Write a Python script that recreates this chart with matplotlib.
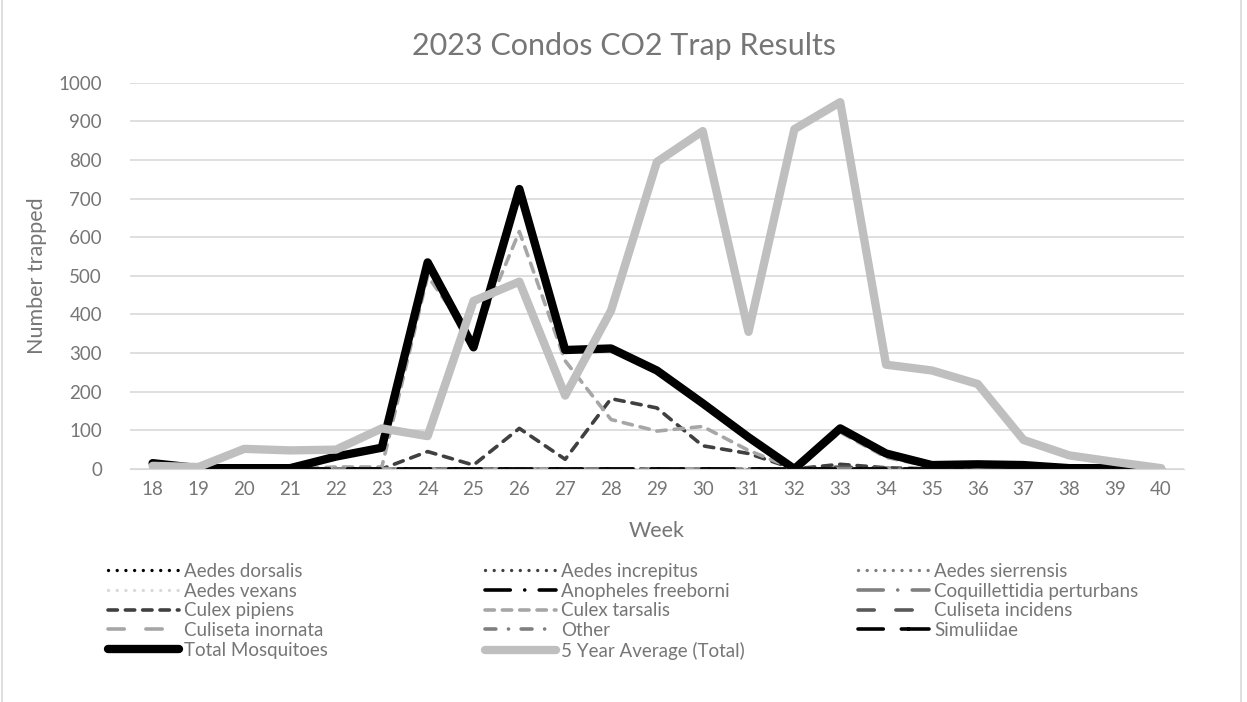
import matplotlib.pyplot as plt
from matplotlib.patches import Rectangle

# weeks and series
weeks = list(range(18, 41))

aedes_dorsalis = [0] * 23
aedes_increpitus = [0] * 23
aedes_sierrensis = [0] * 23
aedes_vexans = [0] * 23
anopheles_freeborni = [0] * 23
coquillettidia = [0] * 23
culex_pipiens = [0, 0, 0, 0, 0, 0, 45, 10, 105, 25, 182, 158, 60, 40, 0, 12, 3, 0, 0, 0, 0, 0, 0]
culex_tarsalis = [0, 0, 0, 0, 5, 5, 500, 330, 615, 280, 128, 98, 110, 48, 0, 95, 30, 5, 3, 2, 0, 0, 0]
culiseta_incidens = [0, 0, 0, 0, 0, 0, 0, 0, 0, 0, 0, 0, 0, 0, 0, 5, 2, 0, 0, 0, 0, 0, 0]
culiseta_inornata = [0] * 23
other = [0] * 23
simuliidae = [12, 0, 0, 0, 0, 0, 0, 0, 0, 0, 0, 0, 0, 0, 0, 0, 0, 0, 8, 8, 2, 2, 0]
total = [15, 2, 2, 2, 32, 55, 535, 315, 725, 308, 312, 255, 170, 82, 0, 105, 40, 10, 12, 10, 2, 2, 0]
avg5 = [8, 5, 52, 48, 50, 105, 85, 435, 485, 190, 410, 795, 875, 355, 880, 950, 270, 255, 220, 75, 35, 18, 2]

names = ['Aedes dorsalis', 'Aedes increpitus', 'Aedes sierrensis', 'Aedes vexans',
         'Anopheles freeborni', 'Coquillettidia perturbans', 'Culex pipiens',
         'Culex tarsalis', 'Culiseta incidens', 'Culiseta inornata', 'Other',
         'Simuliidae', 'Total Mosquitoes', '5 Year Average (Total)']
series = [aedes_dorsalis, aedes_increpitus, aedes_sierrensis, aedes_vexans,
          anopheles_freeborni, coquillettidia, culex_pipiens, culex_tarsalis,
          culiseta_incidens, culiseta_inornata, other, simuliidae, total, avg5]

dot = (0, (0.01, 2.6))
dash = (0, (2.6, 2.2))
longdash = (0, (4.5, 6))
longdashdot = (0, (7, 4, 0.01, 4))
styles = [
    ('#000000', dot, 2.4),
    ('#404040', dot, 2.4),
    ('#7f7f7f', dot, 2.4),
    ('#d9d9d9', dot, 2.4),
    ('#000000', longdashdot, 2.6),
    ('#7f7f7f', longdashdot, 2.6),
    ('#404040', dash, 2.6),
    ('#a6a6a6', dash, 2.6),
    ('#595959', longdash, 2.6),
    ('#a6a6a6', longdash, 2.6),
    ('#7f7f7f', (0, (3, 3.5, 0.01, 3.5)), 2.6),
    ('#000000', (0, (7, 5, 2, 0.01)), 2.6),
    ('#000000', '-', 6),
    ('#bfbfbf', '-', 6),
]

plt.rcParams['font.family'] = ['Lato', 'DejaVu Sans']
txt = '#767676'

fig = plt.figure(figsize=(12.47, 7.02), dpi=100)
ax = fig.add_axes([0.104, 0.332, 0.8455, 0.55])

lines = []
for name, vals, (col, ls, lw) in zip(names, series, styles):
    ln, = ax.plot(weeks, vals, color=col, linestyle=ls, linewidth=lw,
                  solid_capstyle='round', dash_capstyle='round', label=name)
    lines.append(ln)

ax.set_xlim(17.5, 40.5)
ax.set_ylim(0, 1000)
ax.set_yticks(range(0, 1001, 100))
ax.set_xticks(weeks)
ax.yaxis.grid(True, color='#d9d9d9', linewidth=1.2)
ax.set_axisbelow(True)
for s in ['top', 'right', 'left']:
    ax.spines[s].set_visible(False)
ax.spines['bottom'].set_color('#d9d9d9')
ax.tick_params(length=0, labelsize=13.5, labelcolor=txt)
ax.tick_params(axis='y', pad=20)
ax.tick_params(axis='x', pad=9)

ax.set_xlabel('Week', fontsize=15.5, color=txt, labelpad=16)
ax.set_ylabel('Number trapped', fontsize=15.5, color=txt, labelpad=8)
fig.text(0.5, 0.935, '2023 Condos CO2 Trap Results', fontsize=22, color=txt,
         ha='center', va='center')

# legend laid out row-wise in three columns like the reference
cols = [[0, 3, 6, 9, 12], [1, 4, 7, 10, 13], [2, 5, 8, 11]]
col_x = [0.0866, 0.389, 0.688]
for idx, x0 in zip(cols, col_x):
    leg = fig.legend([lines[i] for i in idx], [names[i] for i in idx],
                     loc='upper left', bbox_to_anchor=(x0, 0.198), ncol=1,
                     frameon=False, fontsize=13.5, handlelength=3.8,
                     handletextpad=0.25, labelspacing=0.14, borderpad=0,
                     borderaxespad=0)
    for t in leg.get_texts():
        t.set_color(txt)

fig.patches.append(Rectangle((0.002, -0.01), 0.993, 1.02, transform=fig.transFigure,
                             fill=False, edgecolor='#d9d9d9', linewidth=1.2))

fig.savefig('out.png', dpi=100)
